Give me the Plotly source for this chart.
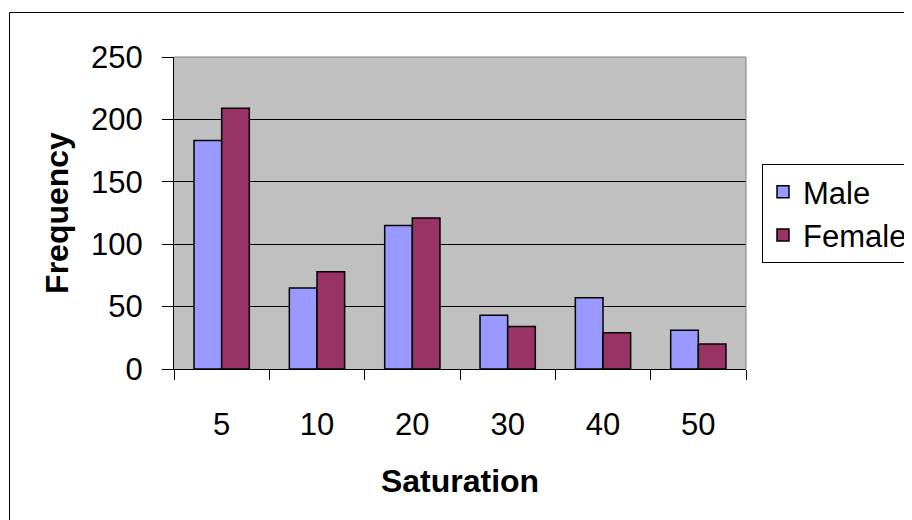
import plotly.graph_objects as go

categories = ["5", "10", "20", "30", "40", "50"]
male = [183, 65, 115, 43, 57, 31]
female = [209, 78, 121, 34, 29, 20]

FONT = "Liberation Sans, Arial, sans-serif"

fig = go.Figure()
fig.add_trace(go.Bar(name="Male", x=categories, y=male,
                     marker=dict(color="#9999FF", line=dict(color="#000000", width=1.5))))
fig.add_trace(go.Bar(name="Female", x=categories, y=female,
                     marker=dict(color="#993366", line=dict(color="#000000", width=1.5))))

# page body has an 8px margin, so the figure starts at (8, 8) in the window
OFF = 8
W, H = 912 - OFF, 520 - OFF
# target plot area in window pixels: x 174..746, y 57..369
L = 174 - OFF
T = 57 - OFF
R = W - (746 - OFF)
B = H - (369 - OFF)
pw, ph = W - L - R, H - T - B

def px2x(px):
    return (px - OFF - L) / pw

def py2y(py):
    return (H - B - (py - OFF)) / ph

fig.update_layout(
    width=W, height=H,
    margin=dict(l=L, r=R, t=T, b=B, pad=0, autoexpand=False),
    paper_bgcolor="white",
    plot_bgcolor="#C0C0C0",
    font=dict(family=FONT, size=31, color="black"),
    barmode="group",
    bargap=0.42,
    bargroupgap=0,
    showlegend=True,
    legend=dict(
        xref="container", yref="container",
        x=(762 - OFF) / W, y=1 - (164 - OFF) / H, xanchor="left", yanchor="top",
        bgcolor="white", bordercolor="#000000", borderwidth=1,
        font=dict(family=FONT, size=31, color="black"),
        tracegroupgap=0,
    ),
    xaxis=dict(
        type="category",
        tickson="boundaries",
        ticks="outside", ticklen=10, tickwidth=1, tickcolor="black",
        showline=True, linecolor="black", linewidth=1,
        showgrid=False,
        ticklabelstandoff=28,
        title=dict(text="<b>Saturation</b>", font=dict(family=FONT, size=32), standoff=28),
    ),
    yaxis=dict(
        range=[0, 250],
        tickvals=[0, 50, 100, 150, 200, 250],
        ticks="outside", ticklen=11, tickwidth=1, tickcolor="black",
        showline=True, linecolor="black", linewidth=1,
        showgrid=True, gridcolor="black", gridwidth=1,
        zeroline=False,
        ticklabelstandoff=13,
        title=dict(text="<b>Frequency</b>", font=dict(family=FONT, size=32), standoff=12),
    ),
    shapes=[
        dict(type="line", xref="paper", yref="paper", x0=0, x1=1, y0=1, y1=1,
             line=dict(color="#808080", width=1)),
        dict(type="line", xref="paper", yref="paper", x0=1, x1=1, y0=0, y1=1,
             line=dict(color="#808080", width=1)),
        dict(type="rect", xref="paper", yref="paper",
             x0=px2x(9.5), x1=px2x(930), y0=py2y(12.5), y1=py2y(540),
             line=dict(color="black", width=1), fillcolor="rgba(0,0,0,0)", layer="below"),
    ],
)

fig.write_html("out.html")
